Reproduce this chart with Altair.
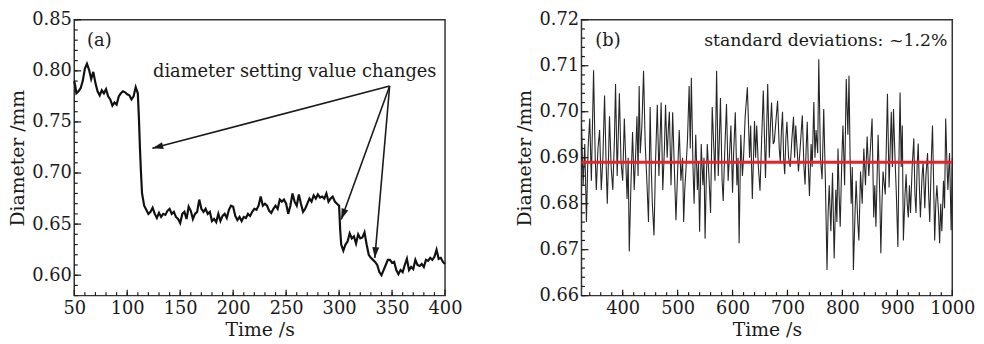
import math
import altair as alt
import pandas as pd

# ---------------- data: panel (a) ----------------
time_a = [50, 51, 52, 54, 56, 58, 60, 62, 64, 66, 68, 70, 72, 74, 76, 78, 80, 82, 84, 86,
          88, 90, 92, 94, 96, 98, 100, 102, 104, 106, 108, 110, 111, 112, 113, 114, 116, 118, 120, 122,
          124, 126, 128, 130, 132, 134, 136, 138, 140, 142, 144, 146, 148, 150, 152, 154, 156, 158, 160, 162,
          164, 166, 168, 170, 172, 174, 176, 178, 180, 182, 184, 186, 188, 190, 192, 194, 196, 198, 200, 202,
          204, 206, 208, 210, 212, 214, 216, 218, 220, 222, 224, 226, 228, 230, 232, 234, 236, 238, 240, 242,
          244, 246, 248, 250, 252, 254, 256, 258, 260, 262, 264, 266, 268, 270, 272, 274, 276, 278, 280, 282,
          284, 286, 288, 290, 292, 294, 296, 298, 300, 301, 302, 304, 306, 308, 310, 312, 314, 316, 318, 320,
          322, 324, 326, 328, 330, 332, 334, 336, 338, 340, 342, 344, 346, 348, 350, 352, 354, 356, 358, 360,
          362, 364, 366, 368, 370, 372, 374, 376, 378, 380, 382, 384, 386, 388, 390, 392, 394, 396, 398, 400]
diam_a = [0.790, 0.785, 0.778, 0.780, 0.783, 0.790, 0.802, 0.807, 0.801, 0.792, 0.799, 0.788, 0.780, 0.776, 0.781, 0.778, 0.782, 0.775, 0.772, 0.766,
          0.769, 0.767, 0.775, 0.778, 0.780, 0.779, 0.777, 0.776, 0.772, 0.775, 0.784, 0.778, 0.755, 0.725, 0.700, 0.680, 0.668, 0.664, 0.660, 0.662,
          0.666, 0.660, 0.656, 0.661, 0.657, 0.660, 0.659, 0.663, 0.665, 0.660, 0.662, 0.657, 0.655, 0.651, 0.660, 0.662, 0.655, 0.667, 0.663, 0.655,
          0.660, 0.662, 0.674, 0.665, 0.662, 0.665, 0.660, 0.662, 0.653, 0.655, 0.652, 0.660, 0.653, 0.658, 0.660, 0.656, 0.664, 0.668, 0.667, 0.658,
          0.654, 0.657, 0.653, 0.657, 0.656, 0.660, 0.658, 0.662, 0.665, 0.664, 0.668, 0.677, 0.668, 0.670, 0.668, 0.663, 0.661, 0.665, 0.668, 0.665,
          0.674, 0.672, 0.674, 0.670, 0.660, 0.668, 0.680, 0.672, 0.668, 0.679, 0.670, 0.662, 0.665, 0.670, 0.675, 0.672, 0.678, 0.675, 0.679, 0.676,
          0.677, 0.675, 0.680, 0.672, 0.675, 0.677, 0.672, 0.670, 0.668, 0.645, 0.630, 0.624, 0.630, 0.633, 0.641, 0.636, 0.638, 0.631, 0.640, 0.636,
          0.637, 0.642, 0.630, 0.620, 0.617, 0.615, 0.613, 0.610, 0.603, 0.600, 0.605, 0.610, 0.615, 0.615, 0.612, 0.613, 0.605, 0.601, 0.605, 0.603,
          0.610, 0.616, 0.605, 0.608, 0.606, 0.615, 0.610, 0.609, 0.611, 0.608, 0.615, 0.614, 0.617, 0.615, 0.618, 0.625, 0.616, 0.617, 0.613, 0.611]

# ---------------- data: panel (b) ----------------
time_b = [325, 328, 331, 334, 337, 340, 343, 347, 350, 352, 355, 358, 361, 364, 367, 370, 372, 374, 376, 379,
          382, 385, 387, 390, 392, 394, 397, 400, 403, 406, 408, 410, 412, 415, 418, 421, 424, 426, 428, 430,
          432, 435, 438, 441, 444, 447, 450, 452, 454, 457, 460, 463, 466, 468, 470, 473, 476, 478, 481, 483,
          485, 488, 491, 494, 497, 500, 503, 506, 509, 511, 513, 515, 518, 521, 523, 525, 528, 530, 533, 536,
          538, 540, 543, 546, 548, 550, 552, 554, 557, 560, 563, 566, 568, 571, 574, 576, 578, 581, 583, 586,
          589, 592, 595, 597, 600, 602, 605, 608, 610, 612, 615, 618, 620, 623, 627, 631, 633, 636, 640, 642,
          644, 647, 650, 653, 656, 660, 664, 667, 669, 671, 674, 676, 679, 682, 685, 687, 689, 691, 693, 695,
          697, 699, 702, 705, 708, 711, 713, 715, 718, 720, 723, 727, 730, 732, 734, 736, 738, 740, 743, 745,
          748, 750, 752, 755, 757, 760, 763, 766, 769, 772, 774, 776, 779, 782, 785, 788, 790, 792, 794, 796,
          799, 801, 804, 807, 810, 812, 814, 816, 818, 820, 823, 825, 828, 830, 833, 836, 839, 842, 845, 848,
          851, 854, 857, 859, 861, 865, 868, 870, 872, 874, 878, 882, 885, 887, 889, 891, 893, 896, 898, 901,
          903, 905, 907, 909, 911, 914, 916, 918, 920, 922, 924, 927, 930, 932, 934, 936, 938, 940, 942, 945,
          947, 950, 952, 955, 957, 959, 962, 964, 966, 968, 970, 972, 975, 977, 979, 981, 984, 986, 988, 990,
          992, 995, 998, 1000]
diam_b = [0.697, 0.684, 0.693, 0.676, 0.692, 0.6985, 0.685, 0.709, 0.690, 0.683, 0.692, 0.696, 0.683, 0.690, 0.7035, 0.688, 0.680, 0.689, 0.699, 0.688,
          0.683, 0.694, 0.706, 0.686, 0.695, 0.704, 0.689, 0.685, 0.6985, 0.688, 0.681, 0.690, 0.6696, 0.684, 0.6956, 0.683, 0.692, 0.699, 0.686, 0.7056,
          0.691, 0.697, 0.7089, 0.693, 0.685, 0.676, 0.701, 0.688, 0.680, 0.6731, 0.690, 0.7015, 0.686, 0.694, 0.702, 0.683, 0.692, 0.7015, 0.690, 0.696,
          0.700, 0.684, 0.6999, 0.688, 0.6764, 0.687, 0.696, 0.685, 0.690, 0.676, 0.683, 0.687, 0.694, 0.7056, 0.692, 0.7074, 0.688, 0.680, 0.695, 0.683,
          0.689, 0.6739, 0.693, 0.684, 0.690, 0.6724, 0.684, 0.693, 0.686, 0.678, 0.701, 0.692, 0.685, 0.7089, 0.686, 0.694, 0.703, 0.685, 0.6806, 0.692,
          0.7017, 0.685, 0.692, 0.697, 0.6824, 0.691, 0.6999, 0.684, 0.690, 0.6714, 0.695, 0.686, 0.690, 0.699, 0.7053, 0.690, 0.697, 0.681, 0.698, 0.690,
          0.697, 0.688, 0.6828, 0.694, 0.7046, 0.6856, 0.706, 0.690, 0.697, 0.702, 0.693, 0.6935, 0.698, 0.7024, 0.692, 0.689, 0.696, 0.700, 0.690, 0.6864,
          0.694, 0.6978, 0.690, 0.688, 0.694, 0.6989, 0.690, 0.697, 0.691, 0.687, 0.692, 0.6992, 0.688, 0.6842, 0.692, 0.6978, 0.688, 0.6817, 0.693, 0.688,
          0.7021, 0.690, 0.696, 0.691, 0.7114, 0.690, 0.6853, 0.7006, 0.685, 0.6656, 0.678, 0.684, 0.674, 0.6867, 0.6681, 0.683, 0.676, 0.692, 0.682, 0.675,
          0.690, 0.697, 0.684, 0.7071, 0.695, 0.7078, 0.690, 0.680, 0.688, 0.6656, 0.678, 0.685, 0.676, 0.672, 0.687, 0.680, 0.692, 0.684, 0.6946, 0.686,
          0.692, 0.6985, 0.677, 0.684, 0.675, 0.695, 0.682, 0.6692, 0.680, 0.687, 0.682, 0.7039, 0.6835, 0.692, 0.700, 0.688, 0.7006, 0.689, 0.6828, 0.6706,
          0.690, 0.7042, 0.688, 0.697, 0.672, 0.682, 0.6864, 0.680, 0.677, 0.684, 0.678, 0.688, 0.6942, 0.682, 0.678, 0.688, 0.6931, 0.684, 0.677, 0.686,
          0.689, 0.679, 0.686, 0.691, 0.682, 0.676, 0.690, 0.697, 0.685, 0.672, 0.680, 0.684, 0.678, 0.6714, 0.680, 0.674, 0.685, 0.679, 0.6985, 0.690,
          0.683, 0.691, 0.6742, 0.690]
mean_b = [0.689]

# tick values
a_x_major = [50, 100, 150, 200, 250, 300, 350, 400]
a_x_minor = list(range(60, 400, 10))
a_y_major = [0.60, 0.65, 0.70, 0.75, 0.80, 0.85]
a_y_minor = [round(0.58 + 0.01 * i, 2) for i in range(28)]
b_x_major = [400, 500, 600, 700, 800, 900, 1000]
b_x_minor = list(range(340, 1000, 20))
b_y_major = [0.66, 0.67, 0.68, 0.69, 0.70, 0.71, 0.72]
b_y_minor = [round(0.66 + 0.002 * i, 3) for i in range(31)]

W, H = 375, 279
FONT = "DejaVu Serif"
INK = "#1a1a1a"
ONE = pd.DataFrame({"k": [0]})


def tick_layers(xs, ys, xax, yax, xmaj, xmin, ymaj, ymin):
    layers = []
    for vals, ln in ((xmaj, 6), (xmin, 3.5)):
        layers.append(alt.Chart(pd.DataFrame({"t": vals})).mark_rule(color=INK, strokeWidth=1.2).encode(
            x=alt.X("t:Q", scale=xs, axis=xax), y=alt.value(H), y2=alt.value(H - ln)))
    for vals, ln in ((ymaj, 7), (ymin, 3.5)):
        layers.append(alt.Chart(pd.DataFrame({"d": vals})).mark_rule(color=INK, strokeWidth=1.2).encode(
            y=alt.Y("d:Q", scale=ys, axis=yax), x=alt.value(0), x2=alt.value(ln)))
    return layers


def label(txt, x, y, align="left", size=18):
    return alt.Chart(ONE).mark_text(font=FONT, fontSize=size, color=INK, align=align,
                                    baseline="alphabetic").encode(
        x=alt.value(x), y=alt.value(y), text=alt.value(txt))


def arrow(x1, y1, x2, y2):
    ang = math.degrees(math.atan2(x2 - x1, -(y2 - y1))) % 360
    line = alt.Chart(ONE).mark_rule(color=INK, strokeWidth=1.6).encode(
        x=alt.value(x1), y=alt.value(y1), x2=alt.value(x2), y2=alt.value(y2))
    head = alt.Chart(ONE).mark_point(shape="M0,0 L-0.32,1 L0.32,1 Z", size=484, filled=True,
                                     opacity=1, color=INK, angle=ang).encode(
        x=alt.value(x2), y=alt.value(y2))
    return [line, head]


# ---------------- panel (a) ----------------
xs_a = alt.Scale(domain=[50, 400], nice=False, zero=False)
ys_a = alt.Scale(domain=[0.58, 0.85], nice=False, zero=False)
xax_a = alt.Axis(values=a_x_major, format="d", title="Time /s")
yax_a = alt.Axis(values=a_y_major, format=".2f", title="Diameter /mm")
df_a = pd.DataFrame({"t": time_a, "d": diam_a})
line_a = alt.Chart(df_a).mark_line(color="#111111", strokeWidth=2.2).encode(
    x=alt.X("t:Q", scale=xs_a, axis=xax_a),
    y=alt.Y("d:Q", scale=ys_a, axis=yax_a))

src = (319, 67)
arrows = []
for tip in ((79, 130), (270, 202), (304, 241)):
    arrows += arrow(src[0], src[1], tip[0], tip[1])

panel_a = alt.layer(line_a, *tick_layers(xs_a, ys_a, xax_a, yax_a, a_x_major, a_x_minor, a_y_major, a_y_minor),
                    *arrows,
                    label("(a)", 13, 27),
                    label("diameter setting value changes", 223, 58, "center")).properties(width=W, height=H)

# ---------------- panel (b) ----------------
xs_b = alt.Scale(domain=[325, 1000], nice=False, zero=False)
ys_b = alt.Scale(domain=[0.66, 0.72], nice=False, zero=False)
xax_b = alt.Axis(values=b_x_major, format="d", title="Time /s")
yax_b = alt.Axis(values=b_y_major, format=".2f", title="Diameter /mm")
df_b = pd.DataFrame({"t": time_b, "d": diam_b})
line_b = alt.Chart(df_b).mark_line(color="#262626", strokeWidth=1.1).encode(
    x=alt.X("t:Q", scale=xs_b, axis=xax_b),
    y=alt.Y("d:Q", scale=ys_b, axis=yax_b))
mean_line = alt.Chart(pd.DataFrame({"d": mean_b})).mark_rule(color="#e3242b", strokeWidth=3).encode(
    y=alt.Y("d:Q", scale=ys_b, axis=yax_b))

panel_b = alt.layer(line_b, mean_line,
                    *tick_layers(xs_b, ys_b, xax_b, yax_b, b_x_major, b_x_minor, b_y_major, b_y_minor),
                    label("(b)", 14, 27),
                    label("standard deviations: ~1.2%", 370, 27, "right", 17.5)).properties(width=W, height=H)

chart = alt.hconcat(panel_a, panel_b, spacing=53).properties(
    padding={"left": 0, "top": 0, "right": 0, "bottom": 0},
    background="white"
).configure_view(stroke="#333333", strokeWidth=1.5).configure_axis(
    labelFont=FONT, titleFont=FONT, labelFontSize=18, titleFontSize=19,
    labelColor=INK, titleColor=INK, titleFontWeight="normal",
    labelFlush=False, labelOverlap=False,
    grid=False, ticks=False, domain=False, labelPadding=4, titlePadding=3
).configure_axisY(labelPadding=3, titlePadding=4)

chart.save("out.html", embed_options={"renderer": "svg", "actions": False})
